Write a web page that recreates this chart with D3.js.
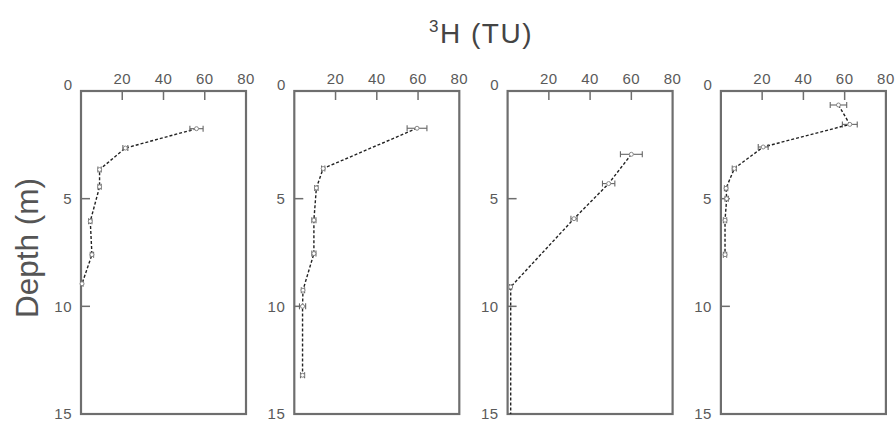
<!DOCTYPE html>
<html>
<head>
<meta charset="utf-8">
<script src="https://cdn.jsdelivr.net/npm/d3@7"></script>
<style>
  html, body { margin: 0; padding: 0; background: #fff; }
  svg { display: block; font-family: "Liberation Sans", Arial, Helvetica, sans-serif; }
</style>
</head>
<body>
<script>
// Tritium profiles: depth (m) versus 3H activity (TU), one panel per site
const depth1 = [1.75, 2.65, 3.65, 4.45, 6.05, 7.6, 8.95];
const tu1    = [56, 21.5, 9, 9, 4.5, 5.3, 0.5];
const err1   = [3.2, 1.2, 0.8, 0.8, 0.8, 0.8, 0.5];

const depth2 = [1.73, 3.6, 4.5, 6.0, 7.55, 9.25, 10.0, 13.2];
const tu2    = [59.5, 14, 10.7, 9.5, 9.5, 4.2, 4.0, 4.0];
const err2   = [4.8, 0.8, 0.8, 1.0, 1.0, 0.8, 1.5, 1.0];

const depth3 = [2.94, 4.3, 5.93, 9.1, 15];
const tu3    = [60, 49, 32.2, 1.5, 1.5];
const err3   = [5.3, 3.0, 1.5, 0.5, 0];

const depth4 = [0.65, 1.55, 2.6, 3.6, 4.52, 5.0, 6.0, 7.6];
const tu4    = [57, 62.5, 20.5, 6.5, 2.5, 2.8, 2.0, 2.0];
const err4   = [4.0, 3.6, 2.4, 1.0, 0.8, 0.8, 0.8, 0.8];

const xTickValues = [20, 40, 60, 80];
const yTickValues = [5, 10, 15];
const xLabel = "(TU)";
const yLabel = "Depth (m)";

const panels = [
  {depth: depth1, tu: tu1, err: err1},
  {depth: depth2, tu: tu2, err: err2},
  {depth: depth3, tu: tu3, err: err3},
  {depth: depth4, tu: tu4, err: err4}
];

const W = 895, H = 422;
const panelTop = 91, panelH = 323, panelW = 165;
const firstLeft = 81, step = 213.3;

const svg = d3.select("body").append("svg")
  .attr("width", W).attr("height", H);

const frameColor = "#6e6e6e";
const textColor = "#5a5a5a";
const tickFont = 15;

const y = d3.scaleLinear().domain([0, 15]).range([panelTop, panelTop + panelH]);

panels.forEach((p, i) => {
  const left = firstLeft + i * step;
  const x = d3.scaleLinear().domain([0, 80]).range([left, left + panelW]);
  const g = svg.append("g");

  // frame
  g.append("rect")
    .attr("x", x(0)).attr("y", y(0))
    .attr("width", x(80) - x(0)).attr("height", y(15) - y(0))
    .attr("fill", "none").attr("stroke", frameColor).attr("stroke-width", 2.2);

  // x ticks: inward from the top edge
  g.selectAll(".xt").data(xTickValues.filter(v => v < 80)).enter().append("line")
    .attr("x1", d => x(d)).attr("x2", d => x(d))
    .attr("y1", y(0)).attr("y2", y(0) + 9)
    .attr("stroke", frameColor).attr("stroke-width", 1.5);
  g.selectAll(".xl").data(xTickValues).enter().append("text")
    .attr("x", d => x(d)).attr("y", y(0) - 12)
    .attr("dy", "0.35em")
    .attr("text-anchor", "middle")
    .attr("font-size", tickFont).attr("letter-spacing", 0.5).attr("fill", textColor)
    .text(d => d);

  // y ticks: inward from the left edge
  g.selectAll(".yt").data(yTickValues.filter(v => v < 15)).enter().append("line")
    .attr("x1", x(0)).attr("x2", x(0) + 9)
    .attr("y1", d => y(d)).attr("y2", d => y(d))
    .attr("stroke", frameColor).attr("stroke-width", 1.5);
  g.selectAll(".yl").data(yTickValues).enter().append("text")
    .attr("x", x(0) - 9).attr("y", d => y(d))
    .attr("dy", "0.35em")
    .attr("text-anchor", "end")
    .attr("font-size", tickFont).attr("letter-spacing", 0.5).attr("fill", textColor)
    .text(d => d);
  // shared origin label
  g.append("text")
    .attr("x", x(0) - 9).attr("y", y(0) - 6)
    .attr("dy", "0.35em")
    .attr("text-anchor", "end")
    .attr("font-size", tickFont).attr("fill", textColor)
    .text(0);

  const pts = p.depth.map((d, k) => ({d, v: p.tu[k], e: p.err[k]}));

  // dashed profile line
  g.append("path")
    .datum(pts)
    .attr("fill", "none").attr("stroke", "#222")
    .attr("stroke-width", 1.4).attr("stroke-dasharray", "3,2")
    .attr("d", d3.line().x(q => x(q.v)).y(q => y(q.d)));

  // horizontal error bars with caps
  const eb = g.selectAll(".eb").data(pts.filter(q => q.e > 0)).enter().append("g")
    .attr("stroke", "#666").attr("stroke-width", 1.1);
  eb.append("line")
    .attr("x1", q => x(q.v - q.e)).attr("x2", q => x(q.v + q.e))
    .attr("y1", q => y(q.d)).attr("y2", q => y(q.d));
  eb.append("line")
    .attr("x1", q => x(q.v - q.e)).attr("x2", q => x(q.v - q.e))
    .attr("y1", q => y(q.d) - 3).attr("y2", q => y(q.d) + 3);
  eb.append("line")
    .attr("x1", q => x(q.v + q.e)).attr("x2", q => x(q.v + q.e))
    .attr("y1", q => y(q.d) - 3).attr("y2", q => y(q.d) + 3);

  // open markers
  g.selectAll(".pt").data(pts.filter(q => q.e > 0)).enter().append("circle")
    .attr("cx", q => x(q.v)).attr("cy", q => y(q.d)).attr("r", 2)
    .attr("fill", "#fff").attr("stroke", "#888").attr("stroke-width", 1);
});

// axis titles
const title = svg.append("text")
  .attr("x", 481).attr("y", 43)
  .attr("text-anchor", "middle")
  .attr("font-size", 28).attr("letter-spacing", 1.5).attr("fill", "#444");
title.append("tspan").attr("font-size", 17).attr("dy", -11).text("3");
title.append("tspan").attr("dy", 11).text("H " + xLabel);

svg.append("text")
  .attr("transform", "translate(38,248) rotate(-90)")
  .attr("text-anchor", "middle")
  .attr("font-size", 31.5).attr("fill", "#555")
  .text(yLabel);
</script>
</body>
</html>
